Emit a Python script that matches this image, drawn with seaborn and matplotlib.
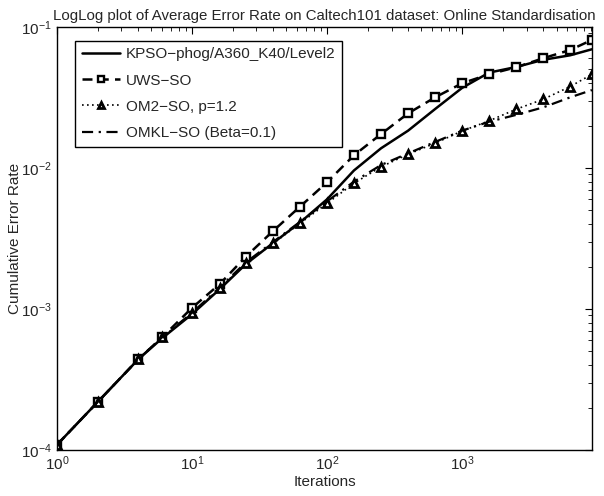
import numpy as np
import pandas as pd
import matplotlib
matplotlib.use("Agg")
import matplotlib.pyplot as plt
import seaborn as sns
from matplotlib.ticker import LogLocator, NullFormatter

iterations = [1, 2, 4, 6, 10, 16, 25, 40, 63, 100, 158, 251, 398, 631,
              1000, 1585, 2512, 3981, 6310, 9144]
kpso = [1.09e-4, 2.19e-4, 4.4e-4, 6.2e-4, 9.2e-4, 1.38e-3, 2.08e-3, 2.95e-3,
        4.1e-3, 6.0e-3, 9.6e-3, 1.38e-2, 1.84e-2, 2.62e-2, 3.7e-2, 4.75e-2,
        5.2e-2, 5.85e-2, 6.3e-2, 6.95e-2]
uws = [1.09e-4, 2.19e-4, 4.4e-4, 6.3e-4, 1.02e-3, 1.50e-3, 2.35e-3, 3.59e-3,
       5.32e-3, 7.93e-3, 1.23e-2, 1.74e-2, 2.44e-2, 3.17e-2, 3.99e-2, 4.62e-2,
       5.18e-2, 6.0e-2, 6.87e-2, 8.09e-2]
om2 = [1.09e-4, 2.19e-4, 4.4e-4, 6.3e-4, 9.3e-4, 1.40e-3, 2.11e-3, 2.92e-3,
       4.05e-3, 5.62e-3, 7.78e-3, 1.02e-2, 1.25e-2, 1.50e-2, 1.83e-2, 2.16e-2,
       2.61e-2, 3.07e-2, 3.78e-2, 4.62e-2]
omkl = [1.09e-4, 2.19e-4, 4.4e-4, 6.3e-4, 9.4e-4, 1.42e-3, 2.14e-3, 3.0e-3,
        4.15e-3, 5.8e-3, 8.0e-3, 1.05e-2, 1.27e-2, 1.53e-2, 1.84e-2, 2.13e-2,
        2.38e-2, 2.69e-2, 3.17e-2, 3.57e-2]
labels = ["KPSO\u2212phog/A360_K40/Level2", "UWS\u2212SO", "OM2\u2212SO, p=1.2",
          "OMKL\u2212SO (Beta=0.1)"]

sns.set_style("white")
plt.rcParams['font.family'] = ['Liberation Sans', 'DejaVu Sans']
plt.rcParams['mathtext.fontset'] = 'custom'
plt.rcParams['mathtext.rm'] = 'Liberation Sans'
plt.rcParams['mathtext.it'] = 'Liberation Sans'

fig = plt.figure(figsize=(6.04, 4.96), dpi=100)
ax = fig.add_axes([0.0944, 0.0927, 0.8856, 0.8529])

df = pd.DataFrame({"it": iterations, "kpso": kpso, "uws": uws, "om2": om2, "omkl": omkl})

sns.lineplot(data=df, x="it", y="kpso", ax=ax, color="black", lw=1.8,
             linestyle="-", label=labels[0])
sns.lineplot(data=df, x="it", y="uws", ax=ax, color="black", lw=1.8,
             linestyle=(0, (4, 2.5)), marker="s", markersize=5.5,
             markerfacecolor="white", markeredgecolor="black", markeredgewidth=1.7,
             label=labels[1])
sns.lineplot(data=df, x="it", y="om2", ax=ax, color="black", lw=1.2,
             linestyle=(0, (1, 2)), marker="^", markersize=6,
             markerfacecolor="white", markeredgecolor="black", markeredgewidth=2.0,
             label=labels[2])
sns.lineplot(data=df, x="it", y="omkl", ax=ax, color="black", lw=1.6,
             linestyle=(0, (5, 2.5, 1, 2.5)), label=labels[3])

ax.set_xscale("log")
ax.set_yscale("log")
ax.set_xlim(1, 9144)
ax.set_ylim(1e-4, 1e-1)

ax.xaxis.set_major_locator(LogLocator(base=10, numticks=10))
ax.xaxis.set_minor_locator(LogLocator(base=10, subs=np.arange(2, 10), numticks=20))
ax.yaxis.set_major_locator(LogLocator(base=10, numticks=10))
ax.yaxis.set_minor_locator(LogLocator(base=10, subs=np.arange(2, 10), numticks=20))
ax.xaxis.set_minor_formatter(NullFormatter())
ax.yaxis.set_minor_formatter(NullFormatter())

ax.tick_params(which="both", direction="in", top=True, right=True, color="black",
               labelsize=11)
ax.tick_params(which="major", length=5, width=0.8)
ax.tick_params(which="minor", length=3, width=0.6)
for s in ax.spines.values():
    s.set_color("black")
    s.set_linewidth(1.0)

ax.set_xlabel("Iterations", fontsize=11, labelpad=1)
ax.set_ylabel("Cumulative Error Rate", fontsize=11)
ax.yaxis.set_label_coords(-0.066, 0.5)
ax.set_title("LogLog plot of Average Error Rate on Caltech101 dataset: Online Standardisation",
             fontsize=10.8, pad=5)

leg = ax.legend(loc="upper left", bbox_to_anchor=(0.033, 0.968), fontsize=11,
                frameon=True, fancybox=False, edgecolor="black", framealpha=1,
                handlelength=2.5, borderpad=0.45, labelspacing=0.8, handletextpad=0.4,
                markerscale=0.8, borderaxespad=0.0)
leg.get_frame().set_linewidth(1.0)

fig.savefig("out.png", dpi=100)
